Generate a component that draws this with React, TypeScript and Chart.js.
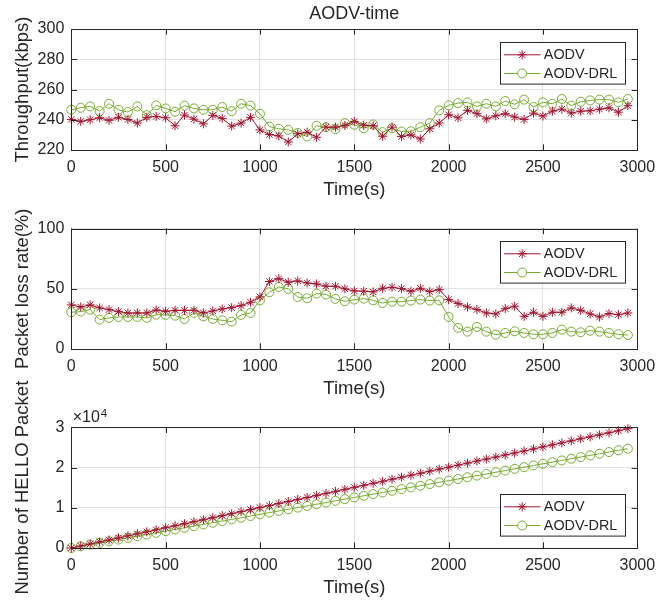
import React, { useEffect, useRef } from 'react';
import { Chart, registerables } from 'chart.js';
import { drawPoint } from 'chart.js/helpers';

Chart.register(...registerables);

// ---------------- DATA ----------------
const timeS = [
  0, 50, 100, 150, 200, 250, 300, 350, 400, 450,
  500, 550, 600, 650, 700, 750, 800, 850, 900, 950,
  1000, 1050, 1100, 1150, 1200, 1250, 1300, 1350, 1400, 1450,
  1500, 1550, 1600, 1650, 1700, 1750, 1800, 1850, 1900, 1950,
  2000, 2050, 2100, 2150, 2200, 2250, 2300, 2350, 2400, 2450,
  2500, 2550, 2600, 2650, 2700, 2750, 2800, 2850, 2900, 2950,
];

const seriesNames = ['AODV', 'AODV-DRL'];

const throughputAODV = [
  240.2, 238.9, 240.0, 241.3, 239.6, 241.6, 240.2, 237.8, 241.6, 242.2,
  241.3, 236.0, 243.1, 240.4, 237.3, 242.9, 240.9, 235.8, 237.8, 241.6,
  233.3, 230.2, 229.3, 225.3, 230.7, 231.8, 228.4, 235.1, 235.1, 236.2,
  238.9, 236.4, 236.0, 229.1, 235.1, 228.9, 230.0, 227.3, 234.0, 237.8,
  243.3, 241.3, 246.2, 244.0, 240.6, 242.6, 244.0, 241.8, 240.2, 244.4,
  242.4, 245.7, 247.0, 244.4, 245.7, 245.9, 247.0, 247.9, 245.0, 249.3,
];
const throughputDRL = [
  246.6, 247.9, 248.8, 245.7, 250.6, 246.6, 245.1, 248.8, 243.1, 249.5,
  247.5, 245.3, 249.3, 247.5, 246.6, 246.6, 248.4, 245.7, 250.6, 249.3,
  244.0, 235.5, 234.0, 233.3, 231.3, 228.9, 236.0, 235.1, 233.7, 237.8,
  236.7, 234.4, 236.9, 231.8, 234.4, 232.2, 232.4, 235.1, 237.8, 246.2,
  249.5, 251.0, 251.5, 248.8, 250.6, 248.8, 252.4, 250.2, 253.3, 248.4,
  251.5, 250.6, 253.7, 249.3, 251.9, 252.8, 253.3, 253.3, 251.5, 253.7,
];

const lossAODV = [
  36.6, 34.9, 36.6, 34.1, 32.7, 31.0, 29.9, 29.9, 29.9, 32.4,
  31.3, 32.1, 32.1, 32.1, 29.9, 31.6, 33.2, 34.3, 36.0, 38.8,
  43.2, 56.0, 58.4, 55.4, 56.5, 54.8, 54.0, 52.1, 52.1, 49.9,
  48.2, 48.0, 47.4, 50.4, 51.2, 50.1, 47.9, 50.4, 47.6, 49.3,
  41.0, 37.7, 34.9, 32.7, 29.9, 29.1, 33.5, 35.5, 27.1, 30.5,
  27.1, 30.5, 30.5, 34.1, 32.1, 29.1, 26.6, 29.4, 28.5, 29.9,
];
const lossDRL = [
  30.5, 31.0, 32.7, 24.4, 25.8, 26.6, 26.6, 26.6, 25.8, 28.5,
  28.3, 27.7, 24.9, 29.9, 27.1, 24.9, 23.8, 22.7, 28.3, 29.9,
  40.4, 47.1, 51.5, 49.9, 43.2, 42.1, 46.0, 45.2, 41.6, 39.6,
  41.0, 41.8, 40.4, 38.2, 39.3, 39.3, 40.2, 41.0, 40.2, 40.4,
  26.6, 17.5, 14.4, 18.3, 14.4, 11.9, 13.3, 14.7, 13.3, 12.2,
  12.2, 13.3, 16.1, 14.4, 13.9, 15.2, 14.4, 13.3, 12.2, 11.6,
];

const helloAODV = [
  0, 500, 1010, 1510, 2010, 2510, 3020, 3520, 4020, 4520,
  5030, 5530, 6030, 6530, 7040, 7540, 8040, 8540, 9050, 9550,
  10050, 10550, 11060, 11560, 12060, 12560, 13070, 13570, 14070, 14570,
  15080, 15580, 16080, 16580, 17090, 17590, 18090, 18590, 19100, 19600,
  20100, 20600, 21110, 21610, 22110, 22610, 23120, 23620, 24120, 24620,
  25130, 25630, 26130, 26630, 27140, 27640, 28140, 28640, 29150, 29650,
];
const helloDRL = [
  0, 420, 840, 1260, 1670, 2090, 2510, 2930, 3350, 3770,
  4190, 4600, 5020, 5440, 5860, 6280, 6700, 7110, 7530, 7950,
  8370, 8790, 9210, 9630, 10040, 10460, 10880, 11300, 11720, 12140,
  12560, 12970, 13390, 13810, 14230, 14650, 15070, 15480, 15900, 16320,
  16740, 17160, 17580, 18000, 18410, 18830, 19250, 19670, 20090, 20510,
  20930, 21340, 21760, 22180, 22600, 23020, 23440, 23850, 24270, 24690,
];

const xTicks = { min: 0, max: 3000, step: 500 };
const throughputTicks = { min: 220, max: 300, step: 20 };
const lossTicks = { min: 0, max: 100, step: 50 };
const helloTicks = { min: 0, max: 30000, step: 10000 };

// ---------------- STYLE ----------------
const RED = '#A2142F';
const GREEN = '#77AC30';
const TEXT = '#262626';
const GRID = 'rgba(38,38,38,0.13)';
const FONT = '"Liberation Sans", Arial, Helvetica, sans-serif';
const W = 671;

function ds(label: string, ys: number[], color: string, style: string) {
  return {
    label,
    data: timeS.map((x, i) => ({ x, y: ys[i] })),
    borderColor: color,
    backgroundColor: 'rgba(0,0,0,0)',
    borderWidth: 1,
    pointStyle: style,
    pointRadius: 4.5,
    pointBorderWidth: 1,
    pointBorderColor: color,
    pointBackgroundColor: 'rgba(0,0,0,0)',
    tension: 0,
    clip: false,
  };
}

const decor = {
  id: 'decor',
  afterDraw(chart: any, _args: any, opts: any) {
    const { ctx, chartArea: a } = chart;
    const xs = chart.scales.x;
    const ys = chart.scales.y;
    ctx.save();
    ctx.strokeStyle = TEXT;
    ctx.lineWidth = 1;
    const tl = 5.7;
    ctx.beginPath();
    xs.ticks.forEach((t: any) => {
      const px = Math.round(xs.getPixelForValue(t.value)) + 0.5;
      ctx.moveTo(px, a.bottom);
      ctx.lineTo(px, a.bottom - tl);
      ctx.moveTo(px, a.top);
      ctx.lineTo(px, a.top + tl);
    });
    ys.ticks.forEach((t: any) => {
      const py = Math.round(ys.getPixelForValue(t.value)) + 0.5;
      ctx.moveTo(a.left, py);
      ctx.lineTo(a.left + tl, py);
      ctx.moveTo(a.right, py);
      ctx.lineTo(a.right - tl, py);
    });
    ctx.stroke();
    const L = Math.round(a.left) + 0.5;
    const T = Math.round(a.top) + 0.5;
    const R = Math.round(a.right) + 0.5;
    const B = Math.round(a.bottom) + 0.5;
    ctx.strokeRect(L, T, R - L, B - T);

    ctx.fillStyle = TEXT;
    ctx.textAlign = 'center';
    ctx.textBaseline = 'middle';
    if (opts.title) {
      ctx.font = `18px ${FONT}`;
      ctx.fillText(opts.title, (a.left + a.right) / 2, a.top - 15);
    }
    ctx.font = `18.5px ${FONT}`;
    ctx.fillText(opts.xlabel, (a.left + a.right) / 2, a.bottom + 40);
    ctx.save();
    ctx.translate(23, (a.top + a.bottom) / 2);
    ctx.rotate(-Math.PI / 2);
    ctx.fillText(opts.ylabel, 0, 0);
    ctx.restore();
    if (opts.exponent) {
      ctx.textAlign = 'left';
      ctx.textBaseline = 'alphabetic';
      ctx.font = `16px ${FONT}`;
      const base = '\u00D710';
      ctx.fillText(base, a.left + 1.4, a.top - 5);
      const w = ctx.measureText(base).width;
      ctx.font = `11.5px ${FONT}`;
      ctx.fillText(opts.exponent, a.left + 1.4 + w + 1, a.top - 10.5);
    }
    // legend
    const bw = 125;
    const bh = 41.6;
    const bx = Math.round(a.right - 137.3) + 0.5;
    const by = opts.legendBottom
      ? Math.round(a.bottom - 12.3 - bh) + 0.5
      : Math.round(a.top + 12.7) + 0.5;
    ctx.fillStyle = '#ffffff';
    ctx.fillRect(bx, by, bw, bh);
    ctx.strokeStyle = TEXT;
    ctx.lineWidth = 1;
    ctx.strokeRect(bx, by, bw, bh);
    chart.data.datasets.forEach((d: any, i: number) => {
      const ry = by + 12.3 + i * 18.7;
      ctx.strokeStyle = d.borderColor;
      ctx.lineWidth = 1;
      ctx.beginPath();
      ctx.moveTo(bx + 3.3, ry);
      ctx.lineTo(bx + 40, ry);
      ctx.stroke();
      ctx.fillStyle = '#ffffff';
      ctx.strokeStyle = d.borderColor;
      drawPoint(ctx, {
        pointStyle: d.pointStyle,
        radius: d.pointRadius,
        borderWidth: 1,
        rotation: 0,
      } as any, bx + 21.7, ry);
      ctx.fillStyle = TEXT;
      ctx.font = `14.4px ${FONT}`;
      ctx.textAlign = 'left';
      ctx.textBaseline = 'middle';
      ctx.fillText(d.label, bx + 43.3, ry + 0.5);
    });
    ctx.restore();
  },
};

interface PanelProps {
  top: number;
  height: number;
  padTop: number;
  xAxisH: number;
  a: number[];
  b: number[];
  yt: { min: number; max: number; step: number };
  yfmt?: (v: number) => string;
  deco: any;
}

function Panel(p: PanelProps) {
  const ref = useRef<HTMLCanvasElement>(null);
  useEffect(() => {
    const canvas = ref.current!;
    const tickFont = { family: FONT, size: 16 };
    const chart = new Chart(canvas, {
      type: 'line',
      data: {
        datasets: [
          ds(seriesNames[0], p.a, RED, 'star') as any,
          ds(seriesNames[1], p.b, GREEN, 'circle') as any,
        ],
      },
      options: {
        animation: false,
        responsive: false,
        devicePixelRatio: 1,
        events: [],
        layout: { padding: { left: 0, right: W - 637.3, top: p.padTop, bottom: 0 } },
        plugins: {
          legend: { display: false },
          tooltip: { enabled: false },
          decor: p.deco,
        } as any,
        scales: {
          x: {
            type: 'linear',
            min: xTicks.min,
            max: xTicks.max,
            ticks: {
              stepSize: xTicks.step,
              color: TEXT,
              font: tickFont,
              padding: 8,
              maxRotation: 0,
              autoSkip: false,
              callback: (v: any) => String(v),
            },
            grid: { color: GRID, lineWidth: 1, drawTicks: false },
            border: { display: false },
            afterFit: (s: any) => {
              s.height = p.xAxisH;
            },
          },
          y: {
            type: 'linear',
            min: p.yt.min,
            max: p.yt.max,
            ticks: {
              stepSize: p.yt.step,
              color: TEXT,
              font: tickFont,
              padding: 7,
              autoSkip: false,
              callback: (v: any) => (p.yfmt ? p.yfmt(Number(v)) : String(v)),
            },
            grid: { color: GRID, lineWidth: 1, drawTicks: false },
            border: { display: false },
            afterFit: (s: any) => {
              s.width = 71.3;
            },
          },
        },
      },
      plugins: [decor],
    });
    return () => chart.destroy();
  }, []);
  return (
    <canvas
      ref={ref}
      width={W}
      height={p.height}
      style={{ position: 'absolute', left: 0, top: p.top, width: W, height: p.height }}
    />
  );
}

export default function App() {
  return (
    <div
      style={{
        position: 'absolute',
        left: 0,
        top: 0,
        width: W,
        height: 601,
        background: '#ffffff',
        overflow: 'hidden',
      }}
    >
      <Panel
        top={0}
        height={200}
        padTop={29}
        xAxisH={50}
        a={throughputAODV}
        b={throughputDRL}
        yt={throughputTicks}
        deco={{ title: 'AODV-time', xlabel: 'Time(s)', ylabel: 'Throughput(kbps)' }}
      />
      <Panel
        top={200}
        height={200}
        padTop={28.5}
        xAxisH={51}
        a={lossAODV}
        b={lossDRL}
        yt={lossTicks}
        deco={{ xlabel: 'Time(s)', ylabel: 'Packet loss rate(%)' }}
      />
      <Panel
        top={370}
        height={231}
        padTop={57.3}
        xAxisH={53}
        a={helloAODV}
        b={helloDRL}
        yt={helloTicks}
        yfmt={(v) => String(v / 10000)}
        deco={{ xlabel: 'Time(s)', ylabel: 'Number of HELLO Packet', exponent: '4', legendBottom: true }}
      />
    </div>
  );
}
